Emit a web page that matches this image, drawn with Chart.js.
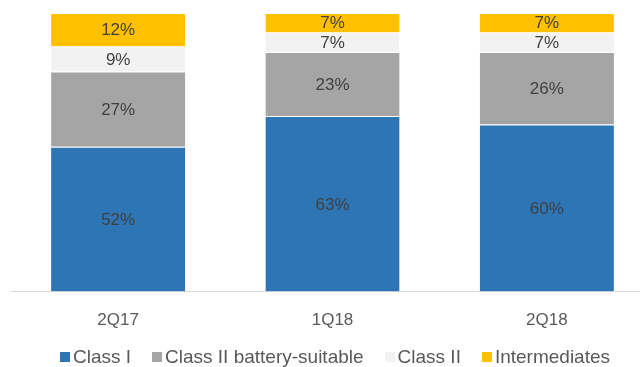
<!DOCTYPE html>
<html>
<head>
<meta charset="utf-8">
<script src="https://cdn.jsdelivr.net/npm/chart.js@4"></script>
<style>
  html, body { margin: 0; padding: 0; background: #fff; overflow: hidden; }
  #page { position: relative; width: 640px; height: 367px; overflow: hidden; }
  #wrap { position: absolute; left: 0; top: 0; width: 660px; height: 350px; }
  #legend {
    position: absolute; left: 0; top: 346px; width: 670px;
    display: flex; justify-content: center; gap: 21px;
    font: 19px "Liberation Sans", Arial, sans-serif; color: #595959;
    line-height: 22px; white-space: nowrap;
  }
  #legend .item { display: flex; align-items: center; }
  #legend .box { width: 10px; height: 10px; margin-right: 3px; }
</style>
</head>
<body>
<div id="page">
  <div id="wrap"><canvas id="chart"></canvas></div>
  <div id="legend"></div>
</div>
<script>
var quarters = ["2Q17", "1Q18", "2Q18"];
var classOne = [52, 63, 60];
var classTwoBattery = [27, 23, 26];
var classTwo = [9, 7, 7];
var intermediates = [12, 7, 7];

var seriesNames = ["Class I", "Class II battery-suitable", "Class II", "Intermediates"];
var seriesColors = ["#2E75B6", "#A5A5A5", "#F2F2F2", "#FFC000"];

// draws the percent labels in the middle of each segment
var segmentLabels = {
    id: 'segmentLabels',
    afterDatasetsDraw: function (chart) {
        var ctx = chart.ctx;
        ctx.save();
        ctx.font = '17px "Liberation Sans", Arial, sans-serif';
        ctx.fillStyle = '#404040';
        ctx.textAlign = 'center';
        ctx.textBaseline = 'middle';
        chart.data.datasets.forEach(function (ds, i) {
            chart.getDatasetMeta(i).data.forEach(function (bar, j) {
                var y = (bar.y + bar.base) / 2;
                ctx.fillText(ds.data[j] + '%', bar.x, y + 1);
            });
        });
        ctx.restore();
    }
};

var chart = new Chart(document.getElementById('chart').getContext('2d'), {
    type: 'bar',
    data: {
        labels: quarters,
        datasets: [
            { label: seriesNames[0], data: classOne, backgroundColor: seriesColors[0] },
            { label: seriesNames[1], data: classTwoBattery, backgroundColor: seriesColors[1] },
            { label: seriesNames[2], data: classTwo, backgroundColor: seriesColors[2] },
            { label: seriesNames[3], data: intermediates, backgroundColor: seriesColors[3] }
        ]
    },
    options: {
        responsive: true,
        maintainAspectRatio: false,
        animation: false,
        datasets: {
            bar: {
                categoryPercentage: 0.626,
                barPercentage: 1,
                borderColor: '#ffffff',
                borderWidth: { top: 1 },
                borderSkipped: 'bottom'
            }
        },
        layout: { padding: { left: 11, right: 6, top: 13, bottom: 0 } },
        scales: {
            x: {
                stacked: true,
                grid: { display: false, drawTicks: false },
                border: { color: '#D9D9D9', width: 1 },
                ticks: {
                    color: '#595959',
                    padding: 19,
                    font: { size: 17, family: '"Liberation Sans", Arial, sans-serif' }
                }
            },
            y: {
                stacked: true,
                display: false,
                min: 0,
                max: 100
            }
        },
        plugins: {
            tooltip: { enabled: false },
            legend: { display: false }
        }
    },
    plugins: [segmentLabels]
});

// legend built from the chart datasets
var legendEl = document.getElementById('legend');
chart.data.datasets.forEach(function (ds) {
    var item = document.createElement('div');
    item.className = 'item';
    var box = document.createElement('span');
    box.className = 'box';
    box.style.background = ds.backgroundColor;
    var txt = document.createElement('span');
    txt.textContent = ds.label;
    item.appendChild(box);
    item.appendChild(txt);
    legendEl.appendChild(item);
});
</script>
</body>
</html>
